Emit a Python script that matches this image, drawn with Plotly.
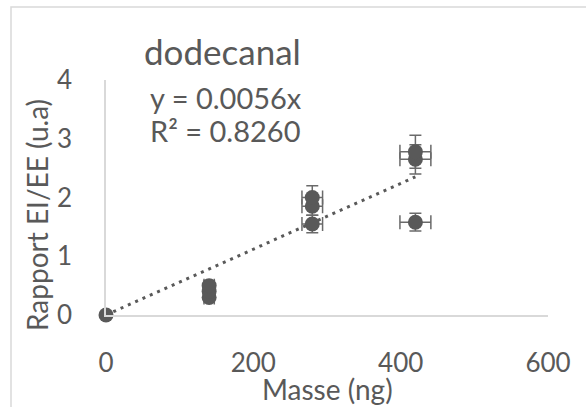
import plotly.graph_objects as go

# Data
mass_ng = [0, 140, 140, 140, 280, 280, 280, 420, 420, 420]
ratio = [0.0, 0.30, 0.40, 0.50, 1.55, 1.85, 2.00, 1.58, 2.65, 2.78]
err_ratio = [0, 0, 0, 0, 0.15, 0.15, 0.20, 0.15, 0.25, 0.28]
err_mass = [0, 7, 7, 7, 14, 14, 14, 21, 21, 21]
trend_x = [0, 420]
trend_slope = 0.0056
trend_y = [trend_slope * v for v in trend_x]
x_ticks = [0, 200, 400, 600]
y_ticks = [0, 1, 2, 3, 4]

GRAY = "#595959"
FONT = "Lato"

fig = go.Figure()
fig.add_trace(go.Scatter(
    x=trend_x, y=trend_y, mode="lines",
    line=dict(color=GRAY, width=3, dash="3px,5px"),
    showlegend=False, hoverinfo="skip", cliponaxis=False))
fig.add_trace(go.Scatter(
    x=mass_ng, y=ratio, mode="markers", cliponaxis=False,
    marker=dict(color=GRAY, size=15),
    error_y=dict(type="data", array=err_ratio, color="#6a6a6a", thickness=1.5, width=6),
    error_x=dict(type="data", array=err_mass, color="#6a6a6a", thickness=1.5, width=7),
    showlegend=False))

L, R, T, B = 106, 38, 80, 92
W, H = 586, 407
pw, ph = W - L - R, H - T - B

def px(xp):
    return (xp - L) / pw

def py(yp):
    return (H - B - yp) / ph

fig.update_layout(
    width=W, height=H,
    margin=dict(l=L, r=R, t=T, b=B),
    paper_bgcolor="white", plot_bgcolor="white",
    font=dict(family=FONT, color=GRAY, size=26),
    xaxis=dict(range=[0, 600], tickvals=x_ticks, showgrid=False, zeroline=False,
               showline=True, linecolor="#d9d9d9", linewidth=1.5, automargin=False,
               ticks="", ticklabelstandoff=24, tickfont=dict(size=26, color=GRAY), fixedrange=True),
    yaxis=dict(range=[0, 4], tickvals=y_ticks, showgrid=False, zeroline=False,
               showline=True, linecolor="#d9d9d9", linewidth=1.5, automargin=False,
               ticks="", ticklabelstandoff=27, tickfont=dict(size=26, color=GRAY), fixedrange=True),
    shapes=[dict(type="path", xref="paper", yref="paper",
                 path=f"M {px(11)},{py(410)} L {px(11)},{py(7)} L {px(590)},{py(7)}",
                 line=dict(color="#d9d9d9", width=1.5))],
    annotations=[
        dict(text="dodecanal", x=px(222), y=py(51), xref="paper", yref="paper",
             showarrow=False, font=dict(size=35, color=GRAY), xanchor="center", yanchor="middle"),
        dict(text="y = 0.0056x", x=px(226), y=py(97), xref="paper", yref="paper",
             showarrow=False, font=dict(size=29, color=GRAY), xanchor="center", yanchor="middle"),
        dict(text="R² = 0.8260", x=px(225), y=py(130), xref="paper", yref="paper",
             showarrow=False, font=dict(size=29, color=GRAY), xanchor="center", yanchor="middle"),
        dict(text="Masse (ng)", x=px(327), y=py(389), xref="paper", yref="paper",
             showarrow=False, font=dict(size=28, color=GRAY), xanchor="center", yanchor="middle"),
        dict(text="Rapport EI/EE (u.a)", x=px(37), y=py(215), xref="paper", yref="paper",
             showarrow=False, textangle=-90, font=dict(size=28, color=GRAY),
             xanchor="center", yanchor="middle"),
    ],
)

fig.write_html("out.html", config={"displayModeBar": False},
               post_script="document.body.style.margin='0';document.body.style.overflow='hidden';")
